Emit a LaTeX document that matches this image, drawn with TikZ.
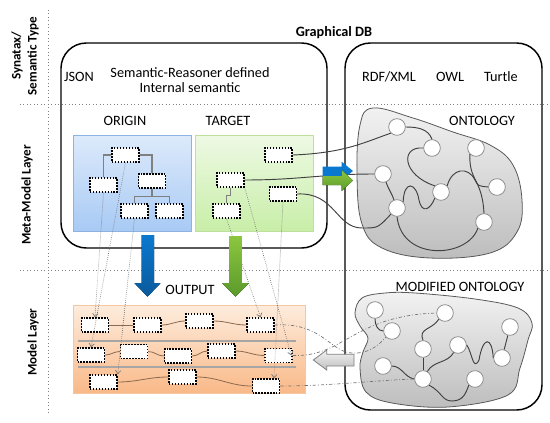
\documentclass[tikz,border=0pt]{standalone}
\usepackage{fontspec}
\setmainfont{Carlito}
\usetikzlibrary{arrows.meta, calc}
\definecolor{cOrgT}{HTML}{DDEAFB}
\definecolor{cOrgB}{HTML}{A8CAF4}
\definecolor{cOrgL}{HTML}{8DB3E2}
\definecolor{cTgtT}{HTML}{EEF9E4}
\definecolor{cTgtB}{HTML}{C8EEA8}
\definecolor{cTgtL}{HTML}{BEE09C}
\definecolor{cOutT}{HTML}{FDECDD}
\definecolor{cOutB}{HTML}{F9B988}
\definecolor{cOutL}{HTML}{F5C7A0}
\definecolor{cBlobT}{HTML}{F2F2F2}
\definecolor{cBlobB}{HTML}{BDBDBD}
\definecolor{cBlue}{HTML}{0B78CF}
\definecolor{cBlueD}{HTML}{0A5A9C}
\definecolor{cGreen}{HTML}{8CC63F}
\definecolor{cGreenD}{HTML}{5B9A2B}
\definecolor{cChain}{HTML}{8C6A4F}
\tikzset{
  lbl/.style      ={font=\fontsize{10.7}{11.5}\selectfont, inner sep=1pt},
  boldlbl/.style  ={font=\fontsize{10.7}{11.5}\selectfont\bfseries, inner sep=1pt},
  sidelbl/.style  ={font=\fontsize{9.8}{12}\selectfont\bfseries, rotate=90, align=center, inner sep=0pt},
  guide/.style    ={draw=black!50, dotted, line width=0.6pt},
  frame/.style    ={draw=black, line width=1.1pt, rounded corners=19pt},
  panel/.style    ={line width=0.6pt},
  slot/.style     ={draw=black, fill=white, line width=1.1pt, dash pattern=on 1.1pt off 1.1pt,
                    minimum width=20.25pt, minimum height=10.5pt, inner sep=0pt},
  concept/.style  ={circle, draw=black!45, fill=white, line width=0.6pt, minimum size=12.5pt, inner sep=0pt},
  blob/.style     ={draw=black!65, line width=0.6pt, top color=cBlobT, bottom color=cBlobB},
  rel/.style      ={draw=black!75, line width=0.7pt},
  tree/.style     ={draw=black!50, line width=0.9pt},
  chain/.style    ={draw=cChain, line width=0.6pt},
  rowsep/.style   ={draw=black!35, line width=1pt},
  trace/.style    ={draw=black!55, densely dotted, line width=0.5pt, -{Straight Barb[length=2.5pt, width=4pt]}},
  sync/.style     ={draw=black!55, line width=0.5pt, dash pattern=on 2.5pt off 1.5pt on 0.6pt off 1.5pt}
}
\begin{document}
\begin{tikzpicture}[x=0.75pt, y=-0.75pt]
  \useasboundingbox (0,0) rectangle (550,422);

  % ---------------- layer guides ----------------
  \draw[guide] (20,104) -- (550,104);
  \draw[guide] (20,270) -- (550,270);
  \draw[guide] (48,10) -- (48,415);

  \node[sidelbl] (lSyn)  at (25,56)  {Synatax/\\Semantic Type};
  \node[sidelbl] (lMeta) at (27,195) {Meta-Model Layer};
  \node[sidelbl] (lMod)  at (33,342) {Model Layer};

  % ---------------- frames ----------------
  \draw[frame] (61,43) rectangle (327,248);
  \draw[frame] (345,43) rectangle (542,410);

  \node[boldlbl] (gdb) at (334,33) {Graphical DB};
  \node[lbl] (json) at (79,77) {JSON};
  \node[lbl, align=center] (sem) at (190,80) {Semantic-Reasoner defined\\Internal semantic};
  \node[lbl] (rdf)    at (389,77) {RDF/XML};
  \node[lbl] (owl)    at (450,77) {OWL};
  \node[lbl] (turtle) at (501,77) {Turtle};

  \node[lbl] (origin) at (125,121) {ORIGIN};
  \node[lbl] (target) at (228,121) {TARGET};
  \node[lbl] (ontl)   at (482,121) {ONTOLOGY};
  \node[lbl] (modl)   at (460,287) {MODIFIED ONTOLOGY};
  \node[lbl] (outl)   at (190,290) {OUTPUT};

  % ---------------- origin / target panels ----------------
  \draw[panel, draw=cOrgL, top color=cOrgT, bottom color=cOrgB] (73,135) rectangle (191,231);
  \draw[panel, draw=cTgtL, top color=cTgtT, bottom color=cTgtB] (195,135) rectangle (313,231);

  \node[slot] (org1) at (125.5,155) {};
  \node[slot] (org2) at (103.5,185) {};
  \node[slot] (org3) at (152,181) {};
  \node[slot] (org4) at (134.5,211) {};
  \node[slot] (org5) at (169.5,211) {};
  \draw[tree] (org1.west) -| (org2.north);
  \draw[tree] (org1.east) -| (org3.north);
  \draw[tree] (org3.south) -- ++(0,8) -| (org4.north);
  \draw[tree] (org3.south) ++(0,8) -| (org5.north);

  \node[slot] (tg1) at (278.5,155) {};
  \node[slot] (tg2) at (230.5,180) {};
  \node[slot] (tg3) at (283,194) {};
  \node[slot] (tg4) at (226.5,211) {};
  \draw[tree] (tg2.south) -- ++(0,8) -| (tg4.north);

  % ---------------- output panel ----------------
  \draw[panel, draw=cOutL, top color=cOutT, bottom color=cOutB] (73,305) rectangle (305,393);
  \draw[rowsep] (78,341) -- (296,341);
  \draw[rowsep] (78,367) -- (296,367);

  \node[slot] (outA1) at (95,325) {};
  \node[slot] (outA2) at (147.5,325) {};
  \node[slot] (outA3) at (199.5,321) {};
  \node[slot] (outA4) at (260.5,325) {};
  \node[slot] (outB1) at (91,355) {};
  \node[slot] (outB2) at (134,351.5) {};
  \node[slot] (outB3) at (178,356) {};
  \node[slot] (outB4) at (221.5,351) {};
  \node[slot] (outB5) at (278.5,355.5) {};
  \node[slot] (outC1) at (103.5,382) {};
  \node[slot] (outC2) at (182.5,377) {};
  \node[slot] (outC3) at (266,386) {};

  \draw[chain] (outA1) -- (outA2);
  \draw[chain] (outA2.east) to[out=0, in=180] (outA3.west);
  \draw[chain] (outA3.east) to[out=0, in=180] (outA4.west);
  \draw[chain] (outB1.east) to[out=0, in=180] (outB2.west);
  \draw[chain] (outB2.east) to[out=0, in=180] (outB3.west);
  \draw[chain] (outB3.east) to[out=0, in=180] (outB4.west);
  \draw[chain] (outB4.east) to[out=0, in=180] (outB5.west);
  \draw[chain] (outC1.east) to[out=0, in=180] (outC2.west);
  \draw[chain] (outC2.east) to[out=0, in=180] (outC3.west);

  % ---------------- ontology ----------------
  \draw[blob] plot[smooth cycle, tension=0.65] coordinates {
    (373,108) (413,118) (453,132) (490,145) (513,165) (522,200) (517,232)
    (490,253) (430,258) (382,248) (362,224) (357,175) (360,125)};

  \node[concept] (ont1) at (397,127) {};
  \node[concept] (ont2) at (432,148) {};
  \node[concept] (ont3) at (476,148) {};
  \node[concept] (ont4) at (383,174) {};
  \node[concept] (ont5) at (441,192) {};
  \node[concept] (ont6) at (497,187) {};
  \node[concept] (ont7) at (397,208) {};
  \node[concept] (ont8) at (484,222) {};

  \draw[rel] (ont1.east) to[out=0, in=110] (ont2.north);
  \draw[rel] (ont2.west) .. controls (400,146) and (402,175) .. (ont5.north west);
  \draw[rel] (ont4) to[out=-70, in=110] (ont7);
  \draw[rel] (ont7.north east) .. controls (404,180) and (416,182) .. (419,200)
             .. controls (422,214) and (430,210) .. (ont5.south west);
  \draw[rel] (ont5.north east) .. controls (452,168) and (468,166) .. (475,180)
             .. controls (478,186) .. (ont6.west);
  \draw[rel] (ont3.south west) .. controls (469,182) and (482,178) .. (ont8.north);
  \draw[rel] (ont7.south) .. controls (402,262) and (468,258) .. (ont8.south west);

  \draw[rel] (tg1.east) .. controls (345,153) and (365,142) .. (ont1.south west);
  \draw[rel] (tg2.east) .. controls (300,180) and (320,174) .. (ont4.west);
  \draw[rel] (tg3.east) .. controls (335,192) and (336,228) .. (362,228)
             .. controls (378,228) .. (ont7.south west);

  % ---------------- modified ontology ----------------
  \draw[blob] plot[smooth cycle, tension=0.6] coordinates {
    (362,298) (385,293) (415,293) (475,299) (518,308) (532,323) (528,340)
    (520,368) (508,395) (448,407) (392,403) (366,392) (360,368) (363,352)
    (368,338) (360,326) (355,313)};

  \node[concept] (mod1)  at (375,310) {};
  \node[concept] (mod2)  at (392,331) {};
  \node[concept] (mod3)  at (445,313) {};
  \node[concept] (mod4)  at (510,327) {};
  \node[concept] (mod5)  at (423,349) {};
  \node[concept] (mod6)  at (458,345) {};
  \node[concept] (mod7)  at (502,358) {};
  \node[concept] (mod8)  at (383,366) {};
  \node[concept] (mod9)  at (423,379) {};
  \node[concept] (mod10) at (475,379) {};

  \draw[rel] (mod1.south) to[out=-90, in=180] (mod2.west);
  \draw[rel] (mod3.south west) .. controls (432,330) and (418,328) .. (mod5.north);
  \draw[rel] (mod5) -- (mod9);
  \draw[rel] (mod6) to[out=-120, in=60] (mod9);
  \draw[rel] (mod6.east) .. controls (472,352) and (473,372) .. (479,360)
             .. controls (483,336) and (492,336) .. (mod7.west);
  \draw[rel] (mod7) -- (mod4);
  \draw[rel] (mod8.east) to[out=0, in=170] (mod9.west);
  \draw[rel] (mod9.south east) .. controls (442,392) and (442,401) .. (452,401)
             .. controls (464,401) and (466,392) .. (mod10.south west);

  % ---------------- traces ----------------
  \draw[trace] (org2.south) -- (outA1.north);
  \draw[trace] (org1.south) -- (outB1.north);
  \draw[trace] (org4.south) -- (outC1.north east);
  \draw[trace] (tg4.south) -- (outA4.north);
  \draw[trace] (tg2.south east) -- ([xshift=-1pt]outB5.east);
  \draw[trace] (tg3.south) -- ([xshift=6pt]outC3.north);

  \draw[sync] (outA4.east) .. controls (322,322) and (330,352) .. (352,353)
              .. controls (368,354) and (378,346) .. (mod2.south west);
  \draw[sync] (outB5.east) .. controls (345,357) and (352,316) .. (mod3.west);
  \draw[sync] (outC3.east) .. controls (330,386) and (380,380) .. (mod9.west);

  % ---------------- block arrows ----------------
  \fill[top color=cBlue, bottom color=cBlueD]
    (141.7,235) -- (154,235) -- (154,283) -- (160.7,283) -- (147.5,296.7)
    -- (134.3,283) -- (141.7,283) -- cycle;
  \fill[top color=cGreen, bottom color=cGreenD]
    (229.2,236) -- (241.8,236) -- (241.8,283) -- (249,283) -- (235.5,296.7)
    -- (222,283) -- (229.2,283) -- cycle;
  \fill[cBlue]
    (322.7,166.7) -- (341.7,166.7) -- (341.7,161.7) -- (353,171) -- (341.7,180)
    -- (341.7,176) -- (322.7,176) -- cycle;
  \fill[top color=cGreen, bottom color=cGreenD]
    (322.7,176) -- (341.7,176) -- (341.7,170) -- (353,180.5) -- (341.7,191)
    -- (341.7,185) -- (322.7,185) -- cycle;
  \draw[draw=black!50, line width=0.6pt, top color=black!5, bottom color=black!25]
    (354,354.3) -- (326.7,354.3) -- (326.7,350) -- (313.3,360) -- (326.7,370)
    -- (326.7,366) -- (354,366) -- cycle;
\end{tikzpicture}
\end{document}
